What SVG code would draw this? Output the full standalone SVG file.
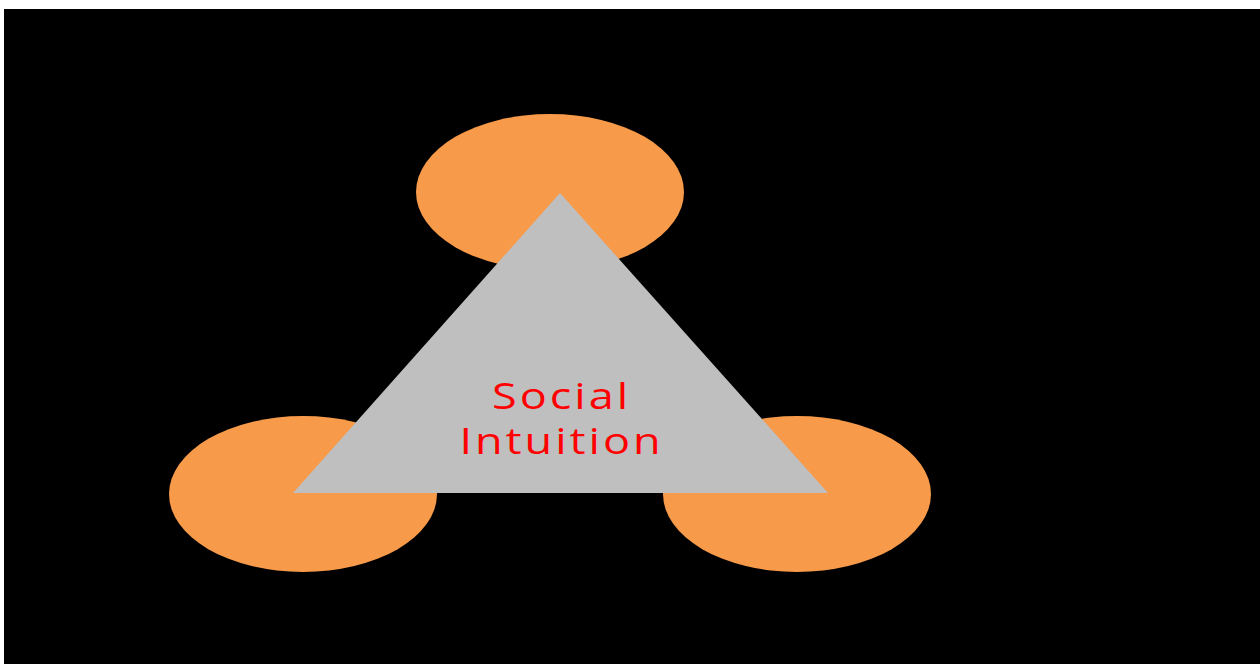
<svg xmlns="http://www.w3.org/2000/svg" width="1260" height="664" viewBox="0 0 1260 664">
<style>
.blob{fill:#F79A4A;}
.tri{fill:#BFBFBF;}
.lbl{font-family:"Open Sans","DejaVu Sans",sans-serif;font-size:36px;fill:#FF0000;text-anchor:middle;letter-spacing:2.4px;}
</style>
<rect x="0" y="0" width="1260" height="664" fill="#FFFFFF"/>
<rect x="4" y="9" width="1256" height="655" fill="#000000"/>
<g id="top-ellipse"><ellipse class="blob" cx="550" cy="192" rx="134" ry="78"/></g>
<g id="left-ellipse"><ellipse class="blob" cx="303" cy="494" rx="134" ry="78"/></g>
<g id="right-ellipse"><ellipse class="blob" cx="797" cy="494" rx="134" ry="78"/></g>
<g id="triangle"><polygon class="tri" points="560,193 828,493 293,493"/>
<g transform="translate(560,0) scale(1.25,1)">
<text class="lbl" x="1.2" y="409">Social</text>
<text class="lbl" x="1.2" y="454">Intuition</text>
</g>
</g>
<g id="connectors"></g>
</svg>
